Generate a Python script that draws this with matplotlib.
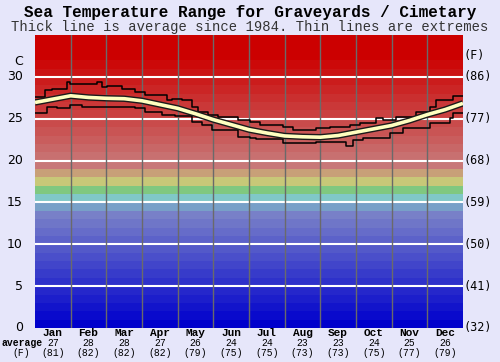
import matplotlib
matplotlib.use("Agg")
import matplotlib.pyplot as plt
import matplotlib.transforms as mtransforms

# data (x in months from 1 Jan, values in C)
months = ["Jan", "Feb", "Mar", "Apr", "May", "Jun",
          "Jul", "Aug", "Sep", "Oct", "Nov", "Dec"]
avg_c = [27, 28, 28, 27, 26, 24, 24, 23, 23, 24, 25, 26]
avg_f = [81, 82, 82, 82, 79, 75, 75, 73, 73, 75, 77, 79]

avg_x = [0, 0.5, 1, 1.5, 2, 2.5, 3, 3.5, 4, 4.5, 5, 5.5, 6,
         6.5, 7, 7.5, 8, 8.5, 9, 9.5, 10, 10.5, 11, 11.5, 12]
avg_t = [26.95, 27.35, 27.75, 27.55, 27.45, 27.4, 27.15, 26.7, 26.25, 25.6, 24.9, 24.3, 23.7,
         23.3, 22.95, 22.85, 22.8, 23.0, 23.4, 23.8, 24.2, 24.8, 25.5, 26.1, 26.85]

hi_x = [0, 0.28, 0.47, 0.89, 0.98, 1.54, 1.73, 1.87, 2.01, 2.43, 2.80, 3.08, 3.69,
        3.83, 4.11, 4.39, 4.58, 4.86, 5.14, 5.70, 6.02, 6.30, 6.95, 7.23, 7.89, 8.26,
        8.82, 9.10, 9.57, 9.76, 10.13, 10.69, 11.07, 11.25, 11.72, 12]
hi_t = [27.6, 28.4, 28.6, 29.35, 29.2, 29.1, 29.35, 28.8, 28.9, 28.6, 28.2, 27.8, 27.2,
        27.4, 27.2, 26.4, 25.8, 25.4, 25.2, 24.85, 24.65, 24.3, 24.05, 23.65, 23.85, 24.05,
        24.25, 24.45, 25.15, 24.85, 25.25, 25.85, 26.45, 27.25, 27.75, 27.75]

lo_x = [0, 0.33, 0.61, 0.98, 1.31, 1.87, 2.80, 3.08, 3.55, 3.93, 4.39, 4.67, 4.95,
        5.70, 6.02, 6.21, 6.95, 7.89, 8.73, 8.92, 9.20, 9.95, 10.32, 11.07, 11.63,
        11.72, 12]
lo_t = [25.7, 26.45, 26.25, 26.6, 26.35, 26.45, 26.25, 25.85, 25.5, 25.35, 24.65, 24.25, 23.65,
        22.85, 22.75, 22.6, 22.05, 22.25, 21.75, 22.45, 22.65, 23.25, 23.85, 24.45, 25.05,
        25.65, 25.65]

c_ticks = [0, 5, 10, 15, 20, 25, 30]
f_ticks = ["(32)", "(41)", "(50)", "(59)", "(68)", "(77)", "(86)"]


def band_colour(k):
    # colour of the 1 degree band starting at k
    special = {13: (120, 128, 200), 14: (120, 160, 200), 15: (128, 200, 200),
               16: (128, 200, 128), 17: (200, 200, 120), 18: (200, 160, 120),
               19: (200, 120, 120)}
    if k in special:
        c = special[k]
    elif k < 13:
        t = k / 13
        c = (120 * t, 128 * t, 204 - 4 * t)
    else:
        t = min((k - 20) / 12, 1)
        c = (200 + 4 * t, 112 * (1 - t), 112 * (1 - t))
    return tuple(v / 255 for v in c)


bg = "#e6e6fa"
fig = plt.figure(figsize=(5, 3.62), dpi=100, facecolor=bg)
ax = fig.add_axes([0.07, 0.094, 0.856, 0.809])
ax.set_xlim(0, 12)
ax.set_ylim(0, 35)

for k in range(35):
    ax.axhspan(k, k + 1, color=band_colour(k), lw=0)

for c in c_ticks[1:]:
    ax.axhline(c, color="white", lw=1.5)
for m in range(1, 12):
    ax.axvline(m, color="#6a6a6a", lw=1)

ax.plot(hi_x, hi_t, drawstyle="steps-post", color="black", lw=1.1)
ax.plot(lo_x, lo_t, drawstyle="steps-post", color="black", lw=1.1)
ax.plot(avg_x, avg_t, color="#1a1a1a", lw=4.6, solid_capstyle="butt")
ax.plot(avg_x, avg_t, color="#ffffc0", lw=2.6, solid_capstyle="butt")

for s in ax.spines.values():
    s.set_visible(False)
ax.set_xticks([])
ax.set_yticks([])

# axis labels outside the plot area
left = mtransforms.blended_transform_factory(fig.transFigure, ax.transData)
for c, f in zip(c_ticks, f_ticks):
    ax.text(0.046, c, str(c), transform=left, ha="right", va="center",
            fontsize=9, family="DejaVu Sans")
    ax.text(0.928, c, f, transform=left, ha="left", va="center",
            fontsize=8.5, family="DejaVu Sans Mono")
ax.text(0.046, 31.9, "C", transform=left, ha="right", va="center",
        fontsize=9, family="DejaVu Sans")
ax.text(0.928, 32.6, "(F)", transform=left, ha="left", va="center",
        fontsize=8.5, family="DejaVu Sans Mono")

below = mtransforms.blended_transform_factory(ax.transData, fig.transFigure)
mono = "Liberation Mono"
for i, name in enumerate(months):
    ax.text(i + 0.5, 1 - 333 / 362, name, transform=below, ha="center", va="center",
            fontsize=8, family=mono, fontweight="bold")
    ax.text(i + 0.5, 1 - 343 / 362, str(avg_c[i]), transform=below, ha="center",
            va="center", fontsize=7, family=mono)
    ax.text(i + 0.5, 1 - 353 / 362, "(%d)" % avg_f[i], transform=below, ha="center",
            va="center", fontsize=7, family=mono)
fig.text(0.004, 1 - 343 / 362, "average", ha="left", va="center", fontsize=7,
         family=mono, fontweight="bold")
fig.text(0.042, 1 - 353 / 362, "(F)", ha="center", va="center", fontsize=7,
         family=mono)

fig.text(0.5, 1 - 13 / 362, "Sea Temperature Range for Graveyards / Cimetary",
         ha="center", va="center", fontsize=11.5, family=mono, fontweight="bold")
fig.text(0.5, 1 - 27 / 362, "Thick line is average since 1984. Thin lines are extremes",
         ha="center", va="center", fontsize=10, family=mono, color="#333333")

fig.savefig("out.png", dpi=100, facecolor=bg)
